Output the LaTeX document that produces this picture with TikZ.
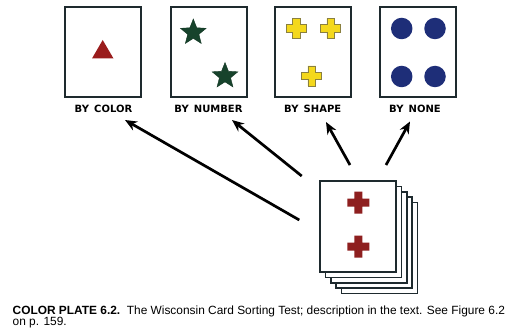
\documentclass[tikz,border=0pt]{standalone}
\usepackage{fontspec}
\setmainfont{Liberation Sans}
\newfontfamily\lblfont{DejaVu Sans}
\usetikzlibrary{shapes.geometric,arrows.meta}
\definecolor{cardline}{HTML}{1E2A2E}
\definecolor{tri}{HTML}{9A1C1C}
\definecolor{stargreen}{HTML}{17432C}
\definecolor{crossyellow}{HTML}{F4D81C}
\definecolor{crossedge}{HTML}{8A8040}
\definecolor{dotblue}{HTML}{1E2E78}
\definecolor{redcross}{HTML}{8E1F1F}
\newcommand\plusat[5]{% x, y, half span, half width, style
  \path[#5, shift={(#1,#2)}] (-#4,-#3) -- (#4,-#3) -- (#4,-#4) -- (#3,-#4) -- (#3,#4) -- (#4,#4) -- (#4,#3) -- (-#4,#3) -- (-#4,#4) -- (-#3,#4) -- (-#3,-#4) -- (-#4,-#4) -- cycle;}
\tikzset{
  card/.style={draw=cardline, line width=1.8pt, fill=white},
  stackcard/.style={draw=cardline, line width=1.5pt, fill=white},
  lbl/.style={font=\lblfont\bfseries\fontsize{10}{11}\selectfont, inner sep=0pt, anchor=base},
  arr/.style={line width=2.7pt, -{Stealth[length=12pt,width=10pt]}},
  greenstar/.style={star, star points=5, star point ratio=2.3, minimum size=27pt, inner sep=0pt, fill=stargreen, draw=stargreen!80!black, line width=0.4pt},
  bluedot/.style={circle, minimum size=21.5pt, inner sep=0pt, fill=dotblue},
  yplus/.style={fill=crossyellow, draw=crossedge, line width=0.6pt},
  rplus/.style={fill=redcross},
  captext/.style={font=\fontsize{11.9}{13}\selectfont, inner sep=0pt, anchor=base west},
}
\begin{document}
\begin{tikzpicture}[x=1pt,y=-1pt]
\useasboundingbox (0,0) rectangle (510,334);
% top cards
\draw[card] (65,7) rectangle (141,97);
\draw[card] (171,7) rectangle (247,97);
\draw[card] (275,7) rectangle (351,97);
\draw[card] (380,7) rectangle (456,97);
% card 1 triangle
\fill[tri] (102.7,40) -- (113.5,58.5) -- (92,58.5) -- cycle;
% card 2 stars
\node[greenstar] (s1) at (193.3,32.5) {};
\node[greenstar] (s2) at (225,76) {};
% card 3 crosses
\plusat{296}{28.5}{10}{3.8}{yplus}
\plusat{330.7}{28.5}{10}{3.8}{yplus}
\plusat{311.7}{76}{10}{3.8}{yplus}
% card 4 dots
\node[bluedot] (d1) at (401.7,28.5) {};
\node[bluedot] (d2) at (435,28.5) {};
\node[bluedot] (d3) at (401.7,76.5) {};
\node[bluedot] (d4) at (435,76.5) {};
% labels
\node[lbl] (l1) at (103.5,112) {BY\, COLOR};
\node[lbl] (l2) at (208.5,112) {BY\, NUMBER};
\node[lbl] (l3) at (312.7,112) {BY\, SHAPE};
\node[lbl] (l4) at (415,112) {BY\, NONE};
% stack
\foreach \k in {4,3,2,1}{
  \draw[stackcard] ({320+5.4*\k},{181+5.4*\k}) rectangle ({396+5.4*\k},{272+5.4*\k});
}
\draw[stackcard] (320,181) rectangle (396,272);
\coordinate (deck) at (358,226);
\plusat{358.3}{202.7}{11}{4}{rplus}
\plusat{358.3}{246.7}{11}{4}{rplus}
% arrows
\coordinate (a1s) at (299.3,220);
\coordinate (a1e) at (125,120);
\coordinate (a2s) at (301.7,176);
\coordinate (a2e) at (232,120);
\coordinate (a3s) at (350,165);
\coordinate (a3e) at (326,122);
\coordinate (a4s) at (386,165);
\coordinate (a4e) at (410,121.5);
\draw[arr] (a1s) -- (a1e);
\draw[arr] (a2s) -- (a2e);
\draw[arr] (a3s) -- (a3e);
\draw[arr] (a4s) -- (a4e);
% caption
\node[captext] (c1) at (12.5,314) {\textbf{COLOR PLATE 6.2.}\ \ The Wisconsin Card Sorting Test; description in the text. See Figure 6.2};
\node[captext] (c2) at (12.5,325) {on p. 159.};
\end{tikzpicture}
\end{document}
